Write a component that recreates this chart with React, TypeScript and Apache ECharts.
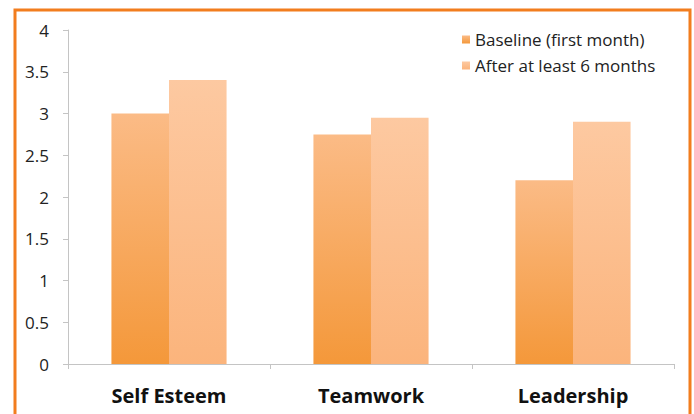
import React, { useEffect, useRef } from "react";
import * as echarts from "echarts";

const categories = ["Self Esteem", "Teamwork", "Leadership"];
const baseline = [3.0, 2.75, 2.2];
const after6 = [3.4, 2.95, 2.9];
const seriesNames = ["Baseline (first month)", "After at least 6 months"];

export default function App() {
  const ref = useRef<HTMLDivElement>(null);
  useEffect(() => {
    const chart = echarts.init(ref.current!, null, { renderer: "svg" });
    const font = "'Open Sans', sans-serif";
    chart.setOption({
      animation: false,
      backgroundColor: "#ffffff",
      textStyle: { fontFamily: font },
      grid: { left: 68, right: 20, top: 30, bottom: 50 },
      legend: {
        orient: "vertical",
        left: 457,
        top: 26,
        itemWidth: 8,
        itemHeight: 8,
        itemGap: 9,
        icon: "rect",
        textStyle: { fontSize: 17, color: "#222", fontFamily: font },
        data: seriesNames,
      },
      xAxis: {
        type: "category",
        data: categories,
        axisLine: { lineStyle: { color: "#c4c4c4" } },
        axisTick: { show: true, length: 5, lineStyle: { color: "#c4c4c4" } },
        axisLabel: { fontSize: 20, fontWeight: "bold", color: "#111", margin: 21, fontFamily: font },
      },
      yAxis: {
        type: "value",
        min: 0,
        max: 4,
        interval: 0.5,
        splitLine: { show: false },
        axisLine: { show: true, lineStyle: { color: "#c4c4c4" } },
        axisTick: { show: true, length: 5, lineStyle: { color: "#c4c4c4" } },
        axisLabel: { fontSize: 17, color: "#222", margin: 19, fontFamily: font },
      },
      series: [
        {
          name: seriesNames[0],
          type: "bar",
          data: baseline,
          barGap: "0%",
          barCategoryGap: "43%",
          itemStyle: {
            color: new echarts.graphic.LinearGradient(0, 0, 0, 1, [
              { offset: 0, color: "#fbbb86" },
              { offset: 1, color: "#f4983a" },
            ]),
          },
        },
        {
          name: seriesNames[1],
          type: "bar",
          data: after6,
          itemStyle: {
            color: new echarts.graphic.LinearGradient(0, 0, 0, 1, [
              { offset: 0, color: "#fdc9a1" },
              { offset: 1, color: "#fbb47c" },
            ]),
          },
        },
      ],
      graphic: [
        {
          type: "rect",
          shape: { x: 15, y: 10, width: 675, height: 420 },
          style: { fill: "none", stroke: "#f27d1e", lineWidth: 3 },
          silent: true,
        },
      ],
    });
    return () => chart.dispose();
  }, []);
  return <div ref={ref} style={{ position: "fixed", left: 0, top: 0, width: 694, height: 414 }} />;
}
